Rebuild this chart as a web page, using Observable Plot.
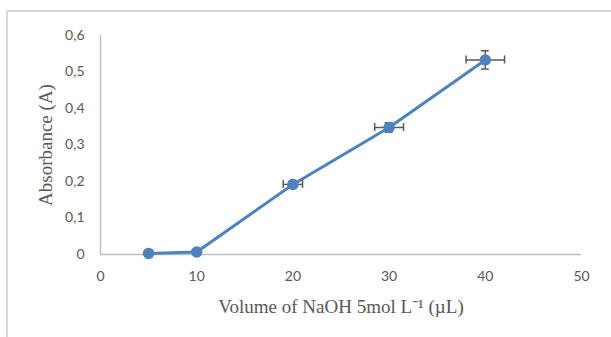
<!DOCTYPE html>
<html>
<head>
<meta charset="utf-8">
<script src="https://cdn.jsdelivr.net/npm/d3@7"></script>
<script src="https://cdn.jsdelivr.net/npm/@observablehq/plot@0.6"></script>
<style>
  html, body { margin: 0; padding: 0; background: #fff; }
  #wrap { position: relative; width: 611px; height: 337px; overflow: hidden; }
  #frame { position: absolute; left: 6px; top: 10px; width: 640px; height: 400px;
           border-top: 2px solid #d9d9d9; border-left: 2px solid #d9d9d9; }
  #chart { position: absolute; left: 0; top: 0; }
</style>
</head>
<body>
<div id="wrap"><div id="frame"></div><div id="chart"></div></div>
<script>
const volumes = [5, 10, 20, 30, 40];
const absorbance = [0.003, 0.007, 0.192, 0.348, 0.533];
const xErr = [0, 0, 1, 1.5, 2];
const yErr = [0, 0, 0.005, 0.013, 0.025];
const xTicks = [0, 10, 20, 30, 40, 50];
const yTicks = [0, 0.1, 0.2, 0.3, 0.4, 0.5, 0.6];
const xTitle = "Volume of NaOH 5mol L⁻¹ (µL)";
const yTitle = "Absorbance (A)";

const data = volumes.map((v, i) => ({x: v, y: absorbance[i], ex: xErr[i], ey: yErr[i]}));
const errX = data.filter(d => d.ex > 0);
const errY = data.filter(d => d.ey > 0);
const blue = "#4f81bd";
const errColor = "#595959";
const fmt = d => d === 0 ? "0" : d3.format(".1f")(d).replace(".", ",");
const serif = "'Liberation Serif', 'Times New Roman', serif";

const plot = Plot.plot({
  width: 611,
  height: 337,
  marginLeft: 100,
  marginRight: 30,
  marginTop: 35,
  marginBottom: 83,
  style: {fontFamily: "Lato, 'Open Sans', sans-serif", fontSize: "14px", color: "#595959", background: "transparent"},
  x: {domain: [0, 50], ticks: xTicks, tickSize: 0, tickPadding: 16, label: null},
  y: {domain: [0, 0.6], ticks: yTicks, tickSize: 0, tickPadding: 16, label: null, tickFormat: fmt},
  marks: [
    Plot.ruleX([0], {stroke: "#bfbfbf", strokeWidth: 1.5}),
    Plot.ruleY([0], {stroke: "#bfbfbf", strokeWidth: 1.5}),
    Plot.axisX({ticks: xTicks, tickSize: 0, tickPadding: 17, fill: "#595959"}),
    Plot.axisY({ticks: yTicks, tickSize: 0, tickPadding: 16, tickFormat: fmt, fill: "#595959"}),
    Plot.line(data, {x: "x", y: "y", stroke: blue, strokeWidth: 3}),
    // horizontal error bars
    Plot.ruleY(errX, {y: "y", x1: d => d.x - d.ex, x2: d => d.x + d.ex, stroke: errColor, strokeWidth: 1.5}),
    Plot.ruleX(errX, {x: d => d.x - d.ex, y1: "y", y2: "y", insetTop: -4, insetBottom: -4, stroke: errColor, strokeWidth: 1.5}),
    Plot.ruleX(errX, {x: d => d.x + d.ex, y1: "y", y2: "y", insetTop: -4, insetBottom: -4, stroke: errColor, strokeWidth: 1.5}),
    // vertical error bars
    Plot.ruleX(errY, {x: "x", y1: d => d.y - d.ey, y2: d => d.y + d.ey, stroke: errColor, strokeWidth: 1.5}),
    Plot.ruleY(errY, {y: d => d.y - d.ey, x1: "x", x2: "x", insetLeft: -4, insetRight: -4, stroke: errColor, strokeWidth: 1.5}),
    Plot.ruleY(errY, {y: d => d.y + d.ey, x1: "x", x2: "x", insetLeft: -4, insetRight: -4, stroke: errColor, strokeWidth: 1.5}),
    Plot.dot(data, {x: "x", y: "y", r: 5, fill: blue, stroke: blue}),
    Plot.text([xTitle], {frameAnchor: "bottom", dy: 58, fontFamily: serif, fontSize: 19, fill: "#595959"}),
    Plot.text([yTitle], {frameAnchor: "left", textAnchor: "middle", dx: -55, rotate: -90, fontFamily: serif, fontSize: 19, fill: "#595959"})
  ]
});
document.getElementById("chart").appendChild(plot);
</script>
</body>
</html>
